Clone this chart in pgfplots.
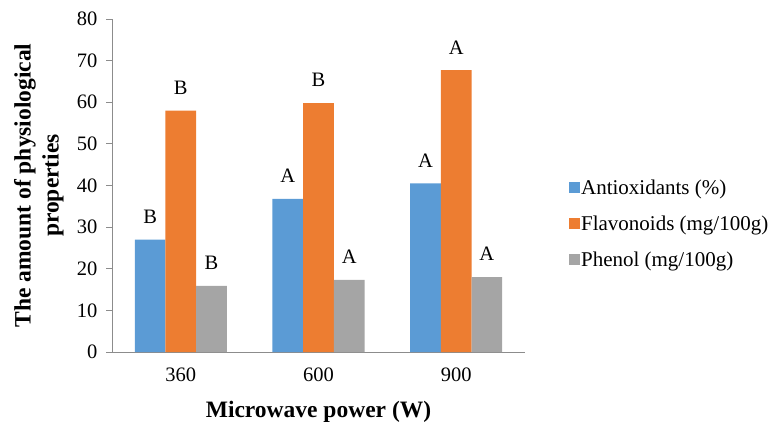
\documentclass[border=0pt]{standalone}
\usepackage{fontspec}
\setmainfont{Liberation Serif}
\usepackage{pgfplots}
\pgfplotsset{compat=1.18}
\definecolor{cA}{HTML}{5B9BD5}
\definecolor{cF}{HTML}{ED7D31}
\definecolor{cP}{HTML}{A5A5A5}
\definecolor{axgray}{HTML}{8C8C8C}
\newcommand{\legfont}{\fontsize{21}{25}\selectfont}
\begin{document}
\begin{tikzpicture}
\path[use as bounding box] (0,0) rectangle (773pt,424pt);
\begin{axis}[
  at={(112pt,72pt)}, anchor=south west,
  scale only axis, width=413pt, height=333pt,
  ybar=0pt, bar width=30.7pt,
  xmin=-0.5, xmax=2.5, ymin=0, ymax=80,
  ytick={0,10,...,80},
  xtick={0,1,2}, xticklabels={360,600,900},
  extra x ticks={-0.5,0.5,1.5,2.5}, extra x tick labels={},
  extra x tick style={major tick length=7pt, tick style={axgray}},
  axis x line*=bottom, axis y line*=left,
  axis line style={axgray, line width=0.8pt},
  x axis line style={-}, y axis line style={-},
  tick align=outside,
  ytick style={axgray, line width=0.8pt}, 
  major tick length=6pt,
  xtick style={draw=none},
  /pgf/number format/assume math mode=true,
  tick label style={font=\fontsize{20.5}{24}\selectfont},
  yticklabel style={xshift=-5pt},
  xticklabel style={yshift=-6pt},
  xlabel={Microwave power (W)},
  ylabel={The amount of physiological\\properties},
  xlabel style={font=\bfseries\fontsize{23.5}{27}\selectfont, at={(axis description cs:0.5,-0.18)}, anchor=center},
  ylabel style={font=\bfseries\fontsize{23.5}{28}\selectfont, align=center, at={(axis description cs:-0.177,0.5)}, anchor=center},
  nodes near coords, point meta=explicit symbolic,
  every node near coord/.append style={font=\fontsize{20.5}{24}\selectfont, anchor=south, inner sep=0pt, yshift=16pt, text=black},
  legend style={at={(1.099,0.385)}, anchor=west, draw=none, fill=none,
    font=\legfont, row sep=18pt,
    nodes={inner sep=1pt, font=\legfont}, cells={anchor=west}},
  legend image code/.code={\fill[#1,draw=none] (0pt,-5.5pt) rectangle (11pt,5.5pt);},
]
\addplot[fill=cA, draw=none] coordinates {(0,27.0) [B] (1,36.8) [A] (2,40.5) [A]};
\addplot[fill=cF, draw=none] coordinates {(0,58.0) [B] (1,59.8) [B] (2,67.7) [A]};
\addplot[fill=cP, draw=none] coordinates {(0,15.9) [B] (1,17.3) [A] (2,18.0) [A]};
\legend{Antioxidants (\%), Flavonoids (mg/100g), Phenol (mg/100g)}
\end{axis}
\end{tikzpicture}
\end{document}
